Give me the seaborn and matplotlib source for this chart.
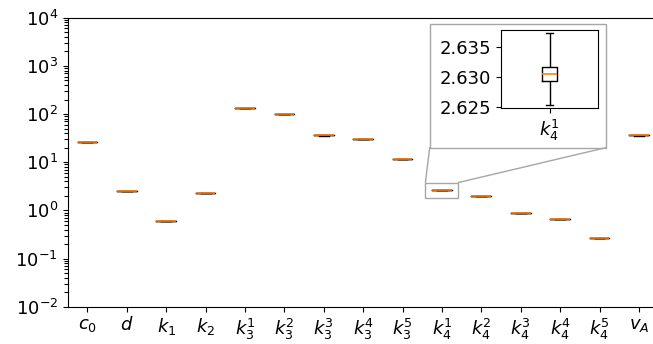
import numpy as np
import pandas as pd
import matplotlib
matplotlib.use("Agg")
import matplotlib.pyplot as plt
from matplotlib.patches import Rectangle, ConnectionPatch
from matplotlib.ticker import FormatStrFormatter
import seaborn as sns

# Parameter names (mathtext) and per-parameter estimates (min, q1, median, q3, max)
params = [r"$c_0$", r"$d$", r"$k_1$", r"$k_2$",
          r"$k_3^1$", r"$k_3^2$", r"$k_3^3$", r"$k_3^4$", r"$k_3^5$",
          r"$k_4^1$", r"$k_4^2$", r"$k_4^3$", r"$k_4^4$", r"$k_4^5$", r"$v_A$"]

c0 = [25.85, 25.97, 26.02, 26.07, 26.2]
d = [2.485, 2.495, 2.500, 2.505, 2.515]
k1 = [0.602, 0.604, 0.605, 0.606, 0.608]
k2 = [2.255, 2.265, 2.270, 2.275, 2.285]
k3_1 = [131.2, 131.7, 132.0, 132.3, 132.8]
k3_2 = [98.4, 98.8, 99.0, 99.2, 99.6]
k3_3 = [35.8, 35.95, 36.0, 36.05, 36.2]
k3_4 = [29.85, 29.95, 30.0, 30.05, 30.15]
k3_5 = [11.44, 11.48, 11.5, 11.52, 11.56]
k4_1 = [2.6252, 2.6293, 2.6305, 2.6317, 2.6374]
k4_2 = [1.960, 1.966, 1.970, 1.974, 1.980]
k4_3 = [0.871, 0.873, 0.875, 0.877, 0.879]
k4_4 = [0.653, 0.655, 0.656, 0.657, 0.659]
k4_5 = [0.2678, 0.2685, 0.2690, 0.2695, 0.2702]
v_A = [35.8, 35.95, 36.0, 36.05, 36.2]

series = [c0, d, k1, k2, k3_1, k3_2, k3_3, k3_4, k3_5,
          k4_1, k4_2, k4_3, k4_4, k4_5, v_A]

df = pd.DataFrame({
    "param": np.repeat(params, [len(s) for s in series]),
    "value": np.concatenate(series),
})

zoom_param = r"$k_4^1$"
inset_ticks = [2.625, 2.630, 2.635]
decades = list(range(-2, 5))

W, H = 653, 344
fig = plt.figure(figsize=(W / 100, H / 100), dpi=100)
ax = fig.add_axes([67.7 / W, 1 - 306.7 / H, (658.6 - 67.7) / W, (306.7 - 17.7) / H])

box_style = dict(
    color="black", linecolor="black", fill=False, linewidth=1.0, whis=(0, 100),
    medianprops=dict(color="#ff7f0e", linewidth=1.2),
)

sns.boxplot(data=df, x="param", y="value", order=params, width=0.5,
            log_scale=True, ax=ax, **box_style)
ax.set_ylim(10.0 ** decades[0], 10.0 ** decades[-1])
ax.set_xlim(-0.5, len(params) - 0.5)
ax.set_yticks([10.0 ** e for e in decades])
ax.set_yticks([m * 10.0 ** e for e in decades[:-1] for m in range(2, 10)], minor=True)
ax.set_xlabel("")
ax.set_ylabel("")
ax.xaxis.label.set_visible(False)
ax.yaxis.label.set_visible(False)
ax.tick_params(which="major", labelsize=13)
ax.tick_params(axis="y", which="minor", left=True, length=3, width=0.8)

# Zoomed view of a single parameter
axins = fig.add_axes([500.7 / W, 1 - 108.3 / H, 97.6 / W, 78.6 / H], zorder=3)
sub = df[df["param"] == zoom_param]
sns.boxplot(data=sub, x="param", y="value", width=0.154, ax=axins, **box_style)
axins.set_xlim(-0.5, 0.5)
axins.set_ylim(2.6247, 2.638)
axins.set_yticks(inset_ticks)
axins.yaxis.set_major_formatter(FormatStrFormatter("%.3f"))
axins.xaxis.label.set_visible(False)
axins.yaxis.label.set_visible(False)
axins.tick_params(labelsize=13)

# Grey frame around the inset
frame = Rectangle((429.7 / W, 1 - 147.7 / H), 176 / W, 124 / H,
                  transform=fig.transFigure, facecolor="white",
                  edgecolor="#a6a6a6", linewidth=1.0, zorder=2)
fig.add_artist(frame)

# Marker around the zoomed box in the main axes
zi = params.index(zoom_param)
zmed = np.median(k4_1)
lo, hi = zmed / 1.47, zmed * 1.44
marker = Rectangle((zi - 0.42, lo), 0.84, hi - lo, fill=False,
                   edgecolor="#a6a6a6", linewidth=1.0, zorder=5)
ax.add_patch(marker)

for xa, xb in [(zi - 0.42, 429.7 / W), (zi + 0.42, 605.7 / W)]:
    con = ConnectionPatch(xyA=(xa, hi), coordsA=ax.transData,
                          xyB=(xb, 1 - 147.7 / H), coordsB=fig.transFigure,
                          color="#a6a6a6", linewidth=1.0, zorder=2)
    fig.add_artist(con)

fig.savefig("out.png", dpi=100)
